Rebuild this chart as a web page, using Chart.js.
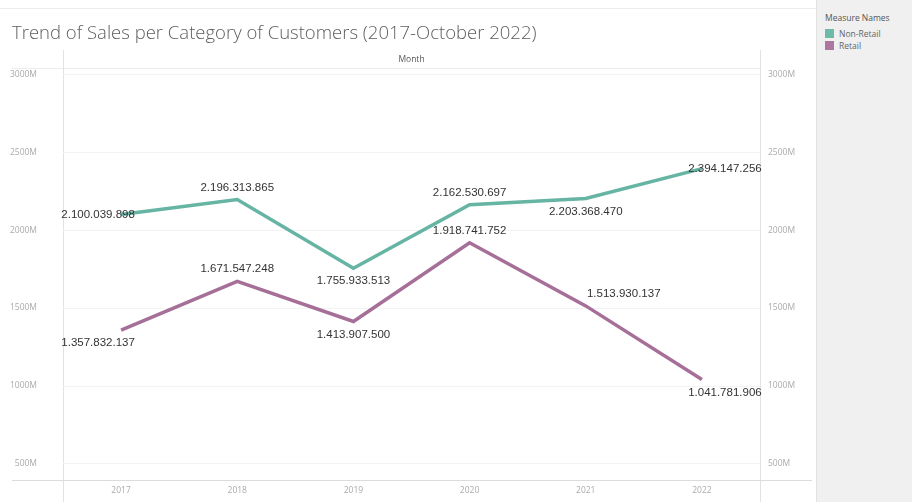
<!DOCTYPE html>
<html>
<head>
<meta charset="utf-8">
<script src="https://cdn.jsdelivr.net/npm/chart.js@4"></script>
<style>
  body { margin: 0; background: #fff; font-family: 'Open Sans', sans-serif; }
  #wrap { position: relative; width: 912px; height: 502px; overflow: hidden; }
  #title { position: absolute; left: 12px; top: 19px; font-size: 18.5px; color: #5e5e5e; white-space: nowrap; font-weight: 300; }
  #chartBox { position: absolute; left: 0; top: 0; width: 816px; height: 502px; }
  #legend { position: absolute; left: 816px; top: 0; width: 96px; height: 502px; background: #f0f0f0; border-left: 1px solid #e2e2e2; font-family: 'Open Sans', sans-serif; }
  #legend .hdr { position: absolute; left: 8px; top: 12px; font-size: 8.5px; color: #555; }
  #legend .item { position: absolute; left: 8px; font-size: 8.5px; color: #666; display: flex; align-items: center; }
  #legend .sw { width: 9px; height: 9px; margin-right: 5px; }
</style>
</head>
<body>
<div id="wrap">
  <div id="chartBox"><canvas id="sales-chart"></canvas></div>
  <div id="title">Trend of Sales per Category of Customers (2017-October 2022)</div>
  <div id="legend">
    <div class="hdr">Measure Names</div>
    <div class="item" style="top:28px"><span class="sw" style="background:#6dbaa9"></span>Non-Retail</div>
    <div class="item" style="top:40px"><span class="sw" style="background:#ad789f"></span>Retail</div>
  </div>
</div>
<script>
// Data
const years = ['2017', '2018', '2019', '2020', '2021', '2022'];
const nonRetail = [2100039898, 2196313865, 1755933513, 2162530697, 2203368470, 2394147256];
const retail = [1357832137, 1671547248, 1413907500, 1918741752, 1513930137, 1041781906];
const yTicks = [500e6, 1000e6, 1500e6, 2000e6, 2500e6, 3000e6];

const COLORS = { nonRetail: '#66b4a3', retail: '#a66f97' };

// 1234567 -> 1.234.567
const fmtDots = (v) => String(Math.round(v)).replace(/\B(?=(\d{3})+(?!\d))/g, '.');

// Tableau-ish pane decorations: header band, axis rules
const paneDecor = {
  id: 'paneDecor',
  beforeDraw(chart) {
    const { ctx, chartArea: a } = chart;
    ctx.save();
    ctx.strokeStyle = '#ececec';
    ctx.lineWidth = 1;
    // top rule
    ctx.beginPath();
    ctx.moveTo(0, 8.5); ctx.lineTo(chart.width, 8.5);
    ctx.stroke();
    // header band bottom + left header cell
    ctx.beginPath();
    ctx.moveTo(12, a.top + 0.5); ctx.lineTo(a.right, a.top + 0.5);
    ctx.stroke();
    // pane verticals
    ctx.strokeStyle = '#e2e2e2';
    ctx.beginPath();
    ctx.moveTo(a.left + 0.5, 50); ctx.lineTo(a.left + 0.5, chart.height);
    ctx.moveTo(a.right + 0.5, 50); ctx.lineTo(a.right + 0.5, chart.height);
    ctx.stroke();
    // bottom axis rule
    ctx.strokeStyle = '#dcdcdc';
    ctx.beginPath();
    ctx.moveTo(12, a.bottom + 0.5); ctx.lineTo(chart.width - 4, a.bottom + 0.5);
    ctx.stroke();
    // header text
    ctx.fillStyle = '#555';
    ctx.font = "8.5px 'Open Sans', sans-serif";
    ctx.textAlign = 'center';
    ctx.textBaseline = 'middle';
    ctx.fillText('Month', (a.left + a.right) / 2, 60);
    ctx.restore();
  }
};

// value labels with per-point nudges
const pointLabels = {
  id: 'pointLabels',
  afterDatasetsDraw(chart, args, opts) {
    const { ctx } = chart;
    ctx.save();
    ctx.font = "11.5px 'Liberation Sans', Arial, sans-serif";
    ctx.fillStyle = '#333';
    ctx.textAlign = 'center';
    ctx.textBaseline = 'middle';
    chart.data.datasets.forEach((ds, i) => {
      const meta = chart.getDatasetMeta(i);
      const nudges = opts.nudges[i];
      meta.data.forEach((pt, j) => {
        const [dx, dy] = nudges[j];
        ctx.fillText(fmtDots(ds.data[j]), pt.x + dx, pt.y + dy);
      });
    });
    ctx.restore();
  }
};

const tickStyle = { color: '#aaa', font: { family: "'Open Sans', sans-serif", size: 8.5 } };

// fixed axis box sizes; drop the label overhang padding so the pane edges stay put
const fixWidth = (w) => (s) => { s.width = w; s.paddingTop = 0; s.paddingBottom = 0; };

new Chart(document.getElementById('sales-chart'), {
  type: 'line',
  data: {
    labels: years,
    datasets: [
      { label: 'Non-Retail', data: nonRetail, borderColor: COLORS.nonRetail, borderWidth: 3.5, pointRadius: 0, tension: 0 },
      { label: 'Retail', data: retail, borderColor: COLORS.retail, borderWidth: 3.5, pointRadius: 0, tension: 0 }
    ]
  },
  options: {
    responsive: true,
    maintainAspectRatio: false,
    animation: false,
    layout: { padding: { top: 68, left: 0, right: 0, bottom: 0 } },
    scales: {
      x: {
        offset: true,
        grid: { display: false, drawTicks: false },
        border: { display: false },
        ticks: { ...tickStyle, padding: 5 },
        afterFit: (s) => { s.height = 22; s.paddingLeft = 0; s.paddingRight = 0; }
      },
      y: {
        position: 'left',
        min: 397e6,
        max: 3040e6,
        afterBuildTicks: (s) => { s.ticks = yTicks.map(v => ({ value: v })); },
        grid: { color: '#f3f3f3', drawTicks: false },
        border: { display: false },
        ticks: { ...tickStyle, padding: 26, callback: (v) => (v / 1e6) + 'M' },
        afterFit: fixWidth(63)
      },
      y2: {
        position: 'right',
        min: 397e6,
        max: 3040e6,
        afterBuildTicks: (s) => { s.ticks = yTicks.map(v => ({ value: v })); },
        grid: { display: false, drawTicks: false },
        border: { display: false },
        ticks: { ...tickStyle, padding: 8, callback: (v) => (v / 1e6) + 'M' },
        afterFit: fixWidth(56)
      }
    },
    plugins: {
      legend: { display: false },
      tooltip: { enabled: false },
      pointLabels: {
        nudges: [
          [[-23, 0], [0, -12], [0, 13], [0, -12], [0, 13], [23, 0]],
          [[-23, 13], [0, -12], [0, 13], [0, -12], [38, -12], [23, 13]]
        ]
      }
    }
  },
  plugins: [paneDecor, pointLabels]
});
</script>
</body>
</html>
